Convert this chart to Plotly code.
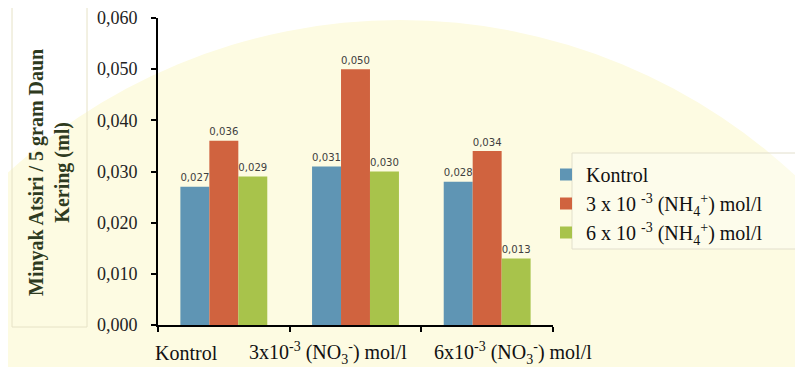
import plotly.graph_objects as go

categories = ["Kontrol", "3x10-3 NO3", "6x10-3 NO3"]
category_labels = ["Kontrol",
                   "3x10<sup>-3</sup> (NO<sub>3</sub><sup>-</sup>) mol/l",
                   "6x10<sup>-3</sup> (NO<sub>3</sub><sup>-</sup>) mol/l"]
series_names = ["Kontrol",
                "3 x 10 <sup>-3</sup> (NH<sub>4</sub><sup>+</sup>) mol/l",
                "6 x 10 <sup>-3</sup> (NH<sub>4</sub><sup>+</sup>) mol/l"]
kontrol = [0.027, 0.031, 0.028]
nh4_3 = [0.036, 0.050, 0.034]
nh4_6 = [0.029, 0.030, 0.013]
y_ticks = [0.0, 0.01, 0.02, 0.03, 0.04, 0.05, 0.06]
y_tick_labels = ["0,000", "0,010", "0,020", "0,030", "0,040", "0,050", "0,060"]

colors = ["#5f95b4", "#d0633f", "#a8c34b"]
OFF = 8  # page body margin
W, H = 803 - OFF, 367 - OFF
L, R, T, B = 158 - OFF, 553 - OFF, 18 - OFF, 325 - OFF


def px(x):
    return (x - OFF - L) / (R - L)


def py(y):
    return (B - (y - OFF)) / (B - T)


def fmt(v):
    return f"{v:.3f}".replace(".", ",")


fig = go.Figure()
for name, vals, col in zip(series_names, [kontrol, nh4_3, nh4_6], colors):
    fig.add_trace(go.Bar(
        x=categories, y=vals, name=name,
        marker=dict(color=col, line=dict(width=0)),
        text=[fmt(v) for v in vals], textposition="outside",
        textfont=dict(family="DejaVu Sans, Arial", size=12, color="#404040"),
        cliponaxis=False,
    ))

shapes = [
    dict(type="circle", xref="paper", yref="paper", layer="below",
         x0=px(400 - 580), x1=px(400 + 580), y0=py(600 + 580), y1=py(600 - 580),
         fillcolor="#fdfbe2", line=dict(width=0)),
    dict(type="rect", xref="paper", yref="paper",
         x0=px(12), x1=px(87), y0=py(327), y1=py(7),
         line=dict(color="#e6e2c6", width=1), fillcolor="rgba(0,0,0,0)"),
    dict(type="rect", xref="paper", yref="paper",
         x0=px(572), x1=px(806), y0=py(249), y1=py(153),
         line=dict(color="#e2dfcc", width=1), fillcolor="rgba(255,255,255,0.3)"),
]

annotations = [
    dict(xref="paper", yref="paper", x=px(49), y=py(172), showarrow=False,
         textangle=-90, xanchor="center", yanchor="middle",
         text="<b>Minyak Atsiri / 5 gram Daun<br>Kering (ml)</b>",
         font=dict(family="Liberation Serif, Times New Roman", size=20, color="#2e3a20")),
]
x_shifts = [-37, -28, 26]
for c, lab, s in zip(categories, category_labels, x_shifts):
    annotations.append(dict(xref="x", yref="paper", x=c, y=py(353), showarrow=False,
                            xanchor="center", yanchor="middle", xshift=s, text=lab,
                            font=dict(family="Liberation Serif, Times New Roman", size=20,
                                      color="#111111")))

fig.update_layout(
    width=W, height=H,
    margin=dict(l=L, r=W - R, t=T, b=H - B, autoexpand=False),
    paper_bgcolor="white", plot_bgcolor="rgba(0,0,0,0)",
    barmode="group", bargap=0.34, bargroupgap=0,
    showlegend=True,
    legend=dict(x=px(546), y=py(155), xanchor="left", yanchor="top",
                font=dict(family="Liberation Serif, Times New Roman", size=20, color="#111111"),
                bgcolor="rgba(0,0,0,0)", tracegroupgap=0, itemwidth=30),
    shapes=shapes, annotations=annotations,
    xaxis=dict(range=[-0.5, 2.5], showticklabels=False, showline=True, linecolor="black",
               linewidth=2, ticks="outside", tickson="boundaries", ticklen=5,
               tickwidth=2, tickcolor="black", showgrid=False, zeroline=False),
    yaxis=dict(range=[0, 0.06], tickvals=y_ticks, ticktext=y_tick_labels,
               showline=True, linecolor="black", linewidth=2, ticks="outside",
               ticklen=5, tickwidth=2, tickcolor="black", showgrid=False, zeroline=False,
               ticklabelstandoff=10,
               tickfont=dict(family="Liberation Serif, Times New Roman", size=18, color="#222222")),
)

fig.write_html("out.html")
